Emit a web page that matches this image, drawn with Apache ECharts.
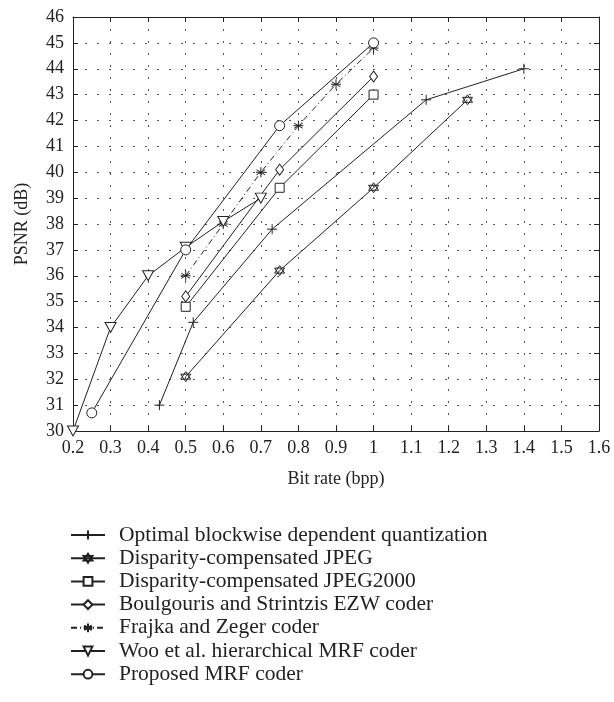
<!DOCTYPE html>
<html>
<head>
<meta charset="utf-8">
<script src="https://cdn.jsdelivr.net/npm/echarts@6/dist/echarts.min.js"></script>
<style>html,body{margin:0;padding:0;background:#fff}#c{width:614px;height:702px}</style>
</head>
<body>
<div id="c"></div>
<script>
var seriesNames = [
  'Optimal blockwise dependent quantization',
  'Disparity-compensated JPEG',
  'Disparity-compensated JPEG2000',
  'Boulgouris and Strintzis EZW coder',
  'Frajka and Zeger coder',
  'Woo et al. hierarchical MRF coder',
  'Proposed MRF coder'
];
var optimalData = [[0.43,31.0],[0.52,34.2],[0.73,37.8],[1.14,42.8],[1.4,44.0]];
var jpegData = [[0.5,32.1],[0.75,36.2],[1.0,39.4],[1.25,42.8]];
var jpeg2000Data = [[0.5,34.8],[0.75,39.4],[1.0,43.0]];
var boulgourisData = [[0.5,35.2],[0.75,40.1],[1.0,43.7]];
var frajkaData = [[0.5,36.0],[0.6,38.0],[0.7,40.0],[0.8,41.8],[0.9,43.4],[1.0,44.8]];
var wooData = [[0.2,30.0],[0.3,34.0],[0.4,36.0],[0.5,37.1],[0.6,38.1],[0.7,39.0]];
var proposedData = [[0.25,30.7],[0.5,37.0],[0.75,41.8],[1.0,45.0]];

var FONT = 'Liberation Serif';
var INK = '#222';

var SYM = {
  plus: 'path://M0,-1L0,1M-1,0L1,0',
  star: 'path://M0,-1L0.866,0.5L-0.866,0.5ZM0,1L0.866,-0.5L-0.866,-0.5Z',
  asterisk: 'path://M0,-1L0,1M-0.866,-0.5L0.866,0.5M-0.866,0.5L0.866,-0.5M-1,0L1,0',
  tri: 'path://M-1,-0.8L1,-0.8L0,0.9Z',
  diamond: 'path://M0,-1L0.7,0L0,1L-0.7,0Z'
};

function mk(name, data, symbol, size, dash) {
  return {
    name: name, type: 'line', data: data,
    symbol: symbol, symbolSize: size,
    showAllSymbol: true,
    lineStyle: {color: INK, width: 1, type: dash || 'solid'},
    itemStyle: {color: '#fff', borderColor: INK, borderWidth: 1},
    emphasis: {disabled: true},
    animation: false,
    z: 3
  };
}

var axisLabelStyle = {fontFamily: FONT, fontSize: 18, color: INK};
var gridLine = {show: true, lineStyle: {color: '#555', width: 1, type: [2, 10]}};

var option = {
  backgroundColor: '#fff',
  animation: false,
  grid: {left: 73, right: 15, top: 17, bottom: 271},
  xAxis: [{
    type: 'value', min: 0.2, max: 1.6, interval: 0.1,
    name: 'Bit rate (bpp)', nameLocation: 'middle', nameGap: 39,
    nameTextStyle: {fontFamily: FONT, fontSize: 18, color: INK},
    axisLine: {show: true, lineStyle: {color: INK, width: 1}},
    axisTick: {show: true, inside: true, length: 5, lineStyle: {color: INK}},
    axisLabel: Object.assign({margin: 8, formatter: function(v){ return String(parseFloat(v.toFixed(1))); }}, axisLabelStyle),
    splitLine: gridLine
  }, {
    type: 'value', position: 'top', min: 0.2, max: 1.6, interval: 0.1,
    axisLine: {show: true, lineStyle: {color: INK, width: 1}},
    axisTick: {show: true, inside: true, length: 5, lineStyle: {color: INK}},
    axisLabel: {show: false}, splitLine: {show: false}
  }],
  yAxis: [{
    type: 'value', min: 30, max: 46, interval: 1,
    name: 'PSNR (dB)', nameLocation: 'middle', nameGap: 42, nameRotate: 90,
    nameTextStyle: {fontFamily: FONT, fontSize: 18, color: INK},
    axisLine: {show: true, lineStyle: {color: INK, width: 1}},
    axisTick: {show: true, inside: true, length: 5, lineStyle: {color: INK}},
    axisLabel: Object.assign({margin: 9}, axisLabelStyle),
    splitLine: gridLine
  }, {
    type: 'value', position: 'right', min: 30, max: 46, interval: 1,
    axisLine: {show: true, lineStyle: {color: INK, width: 1}},
    axisTick: {show: true, inside: true, length: 5, lineStyle: {color: INK}},
    axisLabel: {show: false}, splitLine: {show: false}
  }],
  legend: {
    orient: 'vertical', left: 65, top: 519, height: 175,
    itemWidth: 34, itemHeight: 11, itemGap: 1.2,
    textStyle: {fontFamily: FONT, fontSize: 21.5, color: INK, padding: [0, 0, 0, 9]},
    selectedMode: false,
    data: seriesNames
  },
  series: [
    mk(seriesNames[0], optimalData, SYM.plus, 10),
    mk(seriesNames[1], jpegData, SYM.star, 10),
    mk(seriesNames[2], jpeg2000Data, 'rect', 9),
    mk(seriesNames[3], boulgourisData, SYM.diamond, [8, 11]),
    mk(seriesNames[4], frajkaData, SYM.asterisk, 10, [6, 3, 1, 3]),
    mk(seriesNames[5], wooData, SYM.tri, [11, 10]),
    mk(seriesNames[6], proposedData, 'circle', 10)
  ]
};

var chart = echarts.init(document.getElementById('c'), null, {renderer: 'canvas'});
chart.setOption(option);
</script>
</body>
</html>
